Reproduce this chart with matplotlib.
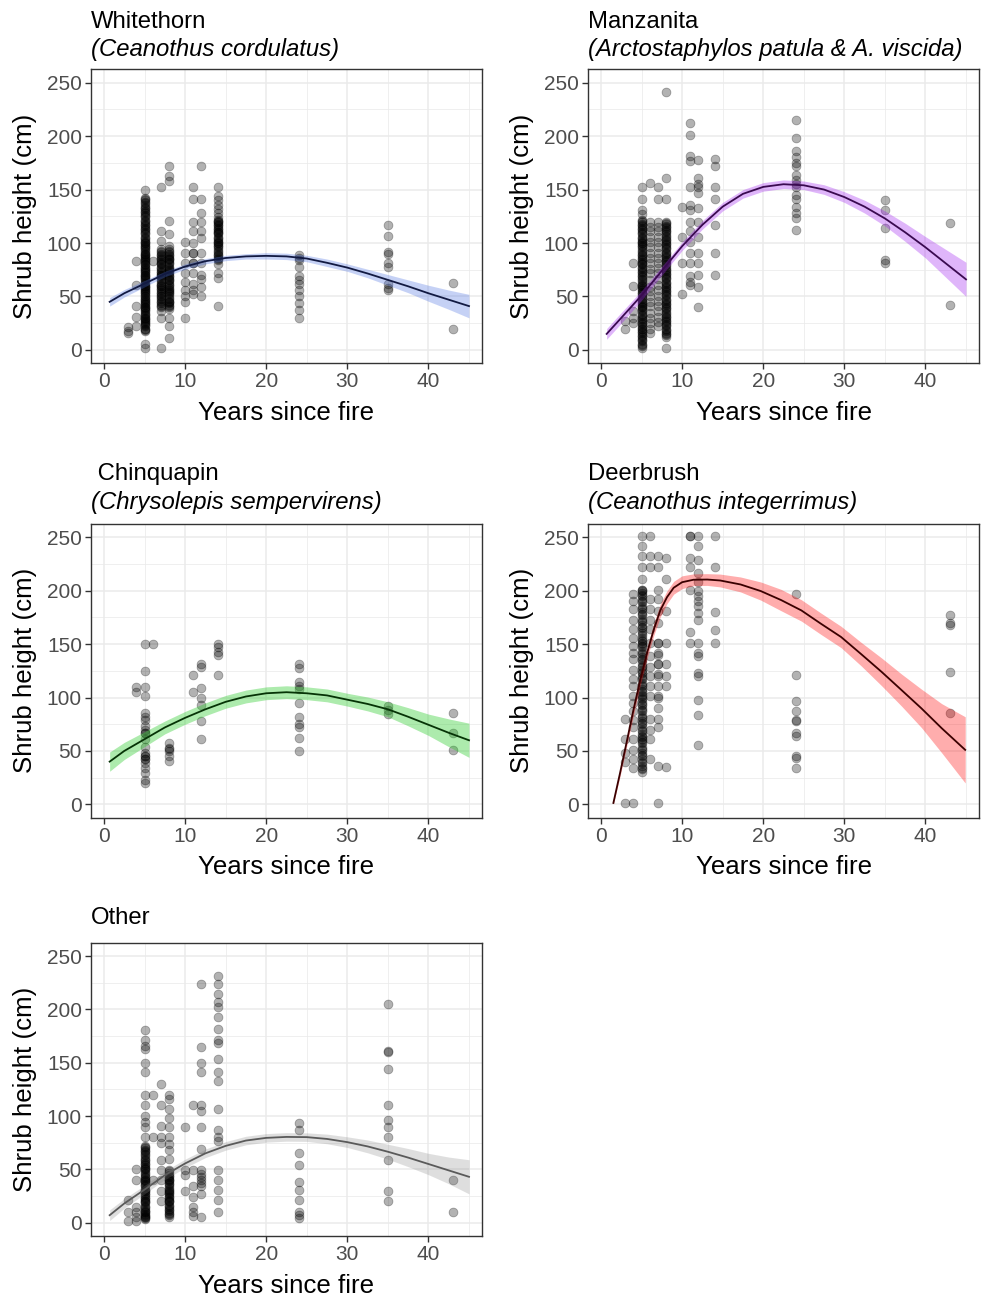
import matplotlib
matplotlib.use("Agg")
import matplotlib.pyplot as plt
import numpy as np

plt.rcParams['font.family'] = ['Liberation Sans', 'DejaVu Sans']

# ---- data ----
years = [3, 4, 5, 6, 7, 8, 10, 11, 12, 14, 24, 35, 43]

whitethorn_heights = [
    [21, 16, 18],
    [83, 61, 41, 31, 22],
    [150, 142, 140, 138, 136, 134, 132, 130, 128, 126, 124, 122, 120, 118, 116, 114, 112,
     110, 108, 106, 104, 102, 100, 98, 96, 94, 92, 90, 88, 86, 84, 82, 80, 78, 76, 74, 72,
     70, 68, 66, 64, 62, 60, 58, 56, 54, 52, 50, 48, 46, 44, 42, 40, 38, 36, 34, 32, 30,
     28, 26, 24, 22, 20, 18, 6, 2, 100, 90, 80, 70, 60, 50, 40, 30, 20, 95, 85, 75, 65,
     55, 45, 35, 25, 141, 137, 133, 129, 125, 121, 117, 113, 109, 105, 101, 97, 93, 89,
     87, 83, 79, 77, 73, 69, 67, 63, 59, 57, 53, 49, 47, 43, 39, 37, 33, 29, 27, 23, 19],
    [83],
    [152, 111, 102, 94, 92, 90, 88, 86, 84, 82, 80, 78, 76, 74, 72, 70, 68, 66, 64, 62, 60,
     58, 56, 54, 52, 50, 48, 46, 44, 42, 40, 36, 30, 2, 80, 70, 60, 50, 93, 89, 85, 81,
     77, 73, 69, 65, 61, 57, 53, 49, 45, 41],
    [172, 163, 158, 121, 108, 97, 94, 92, 90, 88, 86, 84, 82, 80, 78, 76, 74, 72, 70, 68,
     66, 64, 62, 60, 58, 56, 54, 52, 50, 48, 46, 44, 42, 40, 38, 30, 22, 11, 85, 75, 65,
     55, 45, 93, 89, 85, 81, 77, 73, 69, 65, 61, 57, 53, 49, 45, 41],
    [101, 91, 81, 72, 64, 56, 50, 45, 30],
    [152, 141, 120, 111, 100, 91, 81, 72, 62, 56, 52, 91, 81],
    [172, 141, 128, 120, 111, 105, 91, 81, 70, 66, 59, 50],
    [152, 144, 140, 136, 132, 128, 124, 122, 120, 118, 116, 114, 112, 110, 108, 106, 104,
     102, 100, 98, 96, 94, 92, 90, 88, 86, 84, 80, 72, 67, 41, 120, 110, 100, 121, 117,
     113, 109, 105, 101, 97, 93, 89, 85],
    [89, 86, 84, 78, 69, 65, 62, 56, 50, 44, 37, 30],
    [117, 107, 92, 90, 81, 78, 62, 58, 56],
    [63, 20],
]

manzanita_heights = [
    [27, 20],
    [81, 60, 36, 25, 30],
    [152, 141, 131, 127, 122, 120, 118, 116, 114, 112, 110, 108, 106, 104, 102, 100, 98,
     96, 94, 92, 90, 88, 86, 84, 82, 80, 78, 76, 74, 72, 70, 68, 66, 64, 62, 60, 58, 56,
     54, 52, 50, 48, 46, 44, 42, 40, 38, 36, 34, 32, 30, 28, 26, 24, 22, 20, 18, 16, 14,
     12, 10, 8, 6, 4, 2, 100, 80, 60, 40, 20, 121, 117, 113, 109, 105, 101, 97, 93, 89,
     85, 81, 77, 73, 69, 65, 61, 57, 53, 49, 45, 41, 37, 33, 29, 25, 21, 17, 13, 9, 5],
    [156, 120, 115, 111, 106, 101, 96, 91, 86, 81, 76, 72, 65, 59, 55, 50, 45, 41, 35, 30,
     25, 20, 16],
    [152, 141, 120, 115, 111, 106, 101, 96, 91, 86, 81, 77, 72, 66, 61, 56, 50, 46, 41,
     36, 31, 26, 22],
    [241, 161, 141, 120, 118, 116, 114, 112, 110, 108, 106, 104, 102, 100, 98, 96, 94, 92,
     90, 88, 86, 84, 82, 80, 78, 76, 74, 72, 70, 68, 66, 64, 62, 60, 58, 56, 54, 52, 50,
     48, 46, 44, 42, 40, 38, 36, 34, 32, 30, 28, 26, 24, 22, 20, 18, 16, 14, 12, 2, 119,
     115, 111, 107, 103, 99, 95, 91, 87, 83, 79, 75, 71, 67, 63, 59, 55, 51, 47, 43, 39,
     35, 31, 27, 23, 19, 15],
    [134, 106, 81, 52],
    [212, 201, 181, 177, 152, 136, 131, 120, 111, 101, 91, 81, 69, 64, 61],
    [178, 161, 155, 152, 147, 133, 120, 106, 91, 81, 70, 59, 40],
    [179, 172, 152, 141, 117, 91, 70],
    [215, 198, 186, 180, 175, 172, 164, 159, 155, 152, 145, 141, 134, 128, 123, 112],
    [140, 131, 114, 84, 81],
    [119, 42],
]

chinquapin_heights = [
    [],
    [110, 105],
    [150, 125, 110, 101, 86, 82, 79, 73, 70, 67, 61, 54, 48, 45, 42, 39, 34, 29, 23, 20,
     67, 45, 42],
    [150],
    [],
    [57, 53, 50, 45, 41, 52],
    [],
    [121, 105],
    [131, 129, 109, 100, 93, 78, 61],
    [150, 147, 140, 121, 143],
    [131, 128, 115, 111, 108, 95, 82, 75, 72, 62, 50],
    [92, 85, 88],
    [86, 67, 51],
]

deerbrush_heights = [
    [80, 61, 48, 40, 1],
    [197, 190, 183, 173, 164, 156, 148, 142, 136, 126, 117, 111, 101, 95, 87, 79, 72, 61,
     51, 42, 34, 1],
    [251, 242, 233, 222, 211, 201, 198, 195, 192, 189, 186, 183, 180, 177, 174, 171, 168,
     165, 162, 159, 156, 153, 150, 147, 144, 141, 138, 135, 132, 129, 126, 123, 120, 117,
     114, 111, 108, 105, 102, 99, 96, 93, 90, 87, 84, 81, 78, 75, 72, 69, 66, 63, 60, 57,
     54, 51, 48, 45, 42, 39, 36, 33, 30, 201, 151, 101, 61, 200, 196, 190, 184, 178, 172,
     166, 160, 154, 148, 142, 136, 130, 124, 118, 112, 106, 100, 94, 88, 82, 76, 70, 64,
     58, 52, 46, 40, 34],
    [251, 233, 222, 192, 183, 173, 164, 151, 139, 129, 120, 111, 101, 80, 70, 61, 42],
    [233, 222, 201, 192, 181, 170, 151, 142, 131, 122, 111, 101, 80, 72, 36, 1, 151, 131,
     140, 120, 100, 90],
    [231, 211, 181, 151, 131, 120, 111, 35],
    [],
    [251, 231, 222, 201, 161, 151, 251],
    [251, 242, 229, 217, 208, 200, 195, 190, 186, 179, 173, 151, 142, 139, 123, 120, 98,
     84, 56],
    [251, 222, 180, 163, 151],
    [197, 121, 97, 87, 79, 78, 67, 64, 45, 43, 34],
    [],
    [177, 170, 168, 124, 86],
]

other_heights = [
    [21, 10, 2],
    [50, 40, 15, 10, 2, 5],
    [181, 171, 166, 163, 150, 141, 120, 110, 100, 94, 90, 80, 72, 70, 68, 66, 64, 62, 60,
     58, 56, 54, 52, 50, 48, 46, 44, 42, 40, 38, 36, 34, 32, 30, 28, 26, 24, 22, 20, 18,
     16, 14, 12, 10, 8, 6, 4, 3, 50, 40, 30, 20, 10, 5, 71, 67, 63, 59, 55, 51, 47, 43,
     39, 35, 31, 27, 23, 19, 15, 11, 7, 5],
    [120, 80, 40],
    [130, 110, 91, 80, 75, 59, 49, 40, 30, 20],
    [120, 116, 107, 98, 90, 80, 74, 68, 60, 49, 47, 45, 43, 41, 39, 37, 35, 33, 31, 29, 27,
     25, 23, 21, 19, 17, 15, 13, 11, 9, 7, 5, 40, 30, 20, 48, 44, 40, 36, 32, 28, 24, 20,
     16, 12, 8],
    [90, 49, 45, 30],
    [110, 49, 34, 24, 15, 10, 6],
    [224, 165, 150, 141, 110, 105, 90, 69, 49, 46, 43, 40, 37, 34, 27, 5],
    [231, 224, 214, 207, 202, 193, 182, 171, 168, 153, 141, 133, 107, 87, 80, 77, 49, 40,
     31, 21, 10],
    [93, 87, 65, 54, 38, 31, 21, 10, 7, 4],
    [205, 161, 160, 144, 110, 96, 90, 80, 59, 30, 20],
    [40, 10],
]

# fitted curves (centre and half-width of the band)
fit_x = [0.7, 2.5, 5, 7.5, 10, 12.5, 15, 17.5, 20, 22.5, 25, 27.5, 30, 32.5, 35, 37.5,
         40, 42.5, 45]
whitethorn_fit = [45, 53, 62, 71, 78, 83, 86, 87.5, 88, 87.5, 85.5, 81.5, 77, 71.5, 65.5,
                  59.5, 53, 47, 41]
whitethorn_se = [4, 3.5, 3, 2.5, 2.5, 2.5, 2.5, 2.5, 3, 3, 3, 3.5, 3.5, 4, 5, 6, 7.5,
                 9, 11]
manzanita_fit = [15, 30, 51, 74, 97, 117, 134, 146, 152.5, 155, 154, 150, 143, 134, 123,
                 110, 96, 81, 66]
manzanita_se = [5, 5, 4.5, 4, 4, 4, 4, 4, 4, 4, 4, 4.5, 5, 6, 7, 8.5, 10, 13, 16]
chinquapin_fit = [40, 50, 61, 72, 81, 89, 96, 101, 104, 105, 104, 102, 98, 94, 89, 82,
                  74.5, 67, 60]
chinquapin_se = [9, 8, 7, 6, 6, 6, 6, 6, 6, 6, 6, 6, 6, 6.5, 7, 8.5, 10, 13, 16]
other_fit = [7, 18, 31, 44.5, 55.5, 65, 72, 77, 79.5, 80.4, 80.2, 78.5, 75.5, 71.5, 66.5,
             61, 55, 49, 43]
other_se = [5, 4.5, 4, 4, 4, 4, 4, 4, 4, 4, 4, 4.5, 5, 6, 7, 8.5, 10, 12.5, 16]

deerbrush_fit_x = [1.53, 2.35, 3.18, 4.0, 4.83, 5.66, 6.48, 7.31, 8.14, 8.96, 10.0, 11.4,
                   13.1, 14.7, 17.2, 19.7, 22.2, 24.7, 27.1, 29.6, 32.1, 34.6, 37.05,
                   39.5, 42.0, 44.9]
deerbrush_fit = [1.3, 29.3, 58.8, 88.3, 116.3, 141.2, 163, 181.6, 194, 202.8, 208, 210.3,
                 210.5, 209.6, 205.9, 199.7, 191.3, 181.6, 169.2, 156.7, 140.5, 124,
                 107, 89.9, 71.3, 51]
deerbrush_se = [1, 3, 4, 5, 5, 5, 5.5, 6, 6, 6, 6, 5.5, 5.5, 6, 7, 8.5, 10, 10, 10, 10,
                11, 13, 15, 18, 23, 31]

titles = ["Whitethorn", "Manzanita", " Chinquapin", "Deerbrush", "Other"]
subtitles = ["(Ceanothus cordulatus)", "(Arctostaphylos patula & A. viscida)",
             "(Chrysolepis sempervirens)", "(Ceanothus integerrimus)", ""]

# ---- layout (pixels) ----
W, H = 981, 1300
fig = plt.figure(figsize=(W / 100, H / 100), dpi=100)
fig.patch.set_facecolor("white")

col_left = [91, 588]
col_right = [482, 979]
row_top = [69.3, 524, 942.7]
row_bottom = [363.3, 817.7, 1236]

panels = [
    (0, 0, whitethorn_heights, fit_x, whitethorn_fit, whitethorn_se, "#4169E1", 0.3, "#121A42"),
    (0, 1, manzanita_heights, fit_x, manzanita_fit, manzanita_se, "#A020F0", 0.33, "#3A0A50"),
    (1, 0, chinquapin_heights, fit_x, chinquapin_fit, chinquapin_se, "#32CD32", 0.4, "#063306"),
    (1, 1, deerbrush_heights, deerbrush_fit_x, deerbrush_fit, deerbrush_se, "#FF0000", 0.32, "#3A0000"),
    (2, 0, other_heights, fit_x, other_fit, other_se, "#7F7F7F", 0.25, "#5A5A5A"),
]

title_base = [(28, 56), (480, 509), (924, None)]

for i, (r, c, heights, fx, fy, fse, band, balpha, lcol) in enumerate(panels):
    l, rt = col_left[c], col_right[c]
    t, b = row_top[r], row_bottom[r]
    ax = fig.add_axes([l / W, 1 - b / H, (rt - l) / W, (b - t) / H])

    xs = np.repeat(years, [len(h) for h in heights])
    ys = np.concatenate([np.array(h, dtype=float) for h in heights if len(h)])
    ax.scatter(xs, ys, s=40, c="black", alpha=0.3, linewidths=0.6,
               edgecolors="black", zorder=2)

    fy = np.array(fy)
    fse = np.array(fse)
    ax.fill_between(fx, fy - fse, fy + fse, color=band, alpha=balpha, lw=0, zorder=3)
    ax.plot(fx, fy, color=lcol, lw=1.3, zorder=4)

    ax.set_xlim(-1.6, 46.6)
    ax.set_ylim(-12.5, 262.5)
    ax.set_xticks([0, 10, 20, 30, 40])
    ax.set_xticks([5, 15, 25, 35, 45], minor=True)
    ax.set_yticks([0, 50, 100, 150, 200, 250])
    ax.set_yticks([25, 75, 125, 175, 225], minor=True)
    ax.grid(which="major", color="#EBEBEB", lw=1.1)
    ax.grid(which="minor", color="#EBEBEB", lw=0.55)
    ax.set_axisbelow(True)
    for sp in ax.spines.values():
        sp.set_color("#333333")
        sp.set_linewidth(1.0)
    ax.tick_params(which="major", length=4, width=1, color="#333333",
                   labelsize=15, labelcolor="#4D4D4D", pad=2.5)
    ax.tick_params(which="minor", length=0)

    # titles
    tb1, tb2 = title_base[r]
    fig.text(l / W, 1 - tb1 / H, titles[i], fontsize=17.2, va="baseline", ha="left")
    if tb2 is not None and subtitles[i]:
        fig.text(l / W, 1 - tb2 / H, subtitles[i], fontsize=17.2, style="italic",
                 va="baseline", ha="left")

    # axis labels
    fig.text((l + rt) / 2 / W, 1 - (b + 56.7) / H, "Years since fire", fontsize=18.6,
             ha="center", va="baseline")
    ylab_x = 25.5 if c == 0 else 522
    fig.text(ylab_x / W, 1 - (t + b) / 2 / H, "Shrub height (cm)", fontsize=18.6,
             rotation=90, ha="center", va="center")

fig.savefig("out.png", dpi=100)
